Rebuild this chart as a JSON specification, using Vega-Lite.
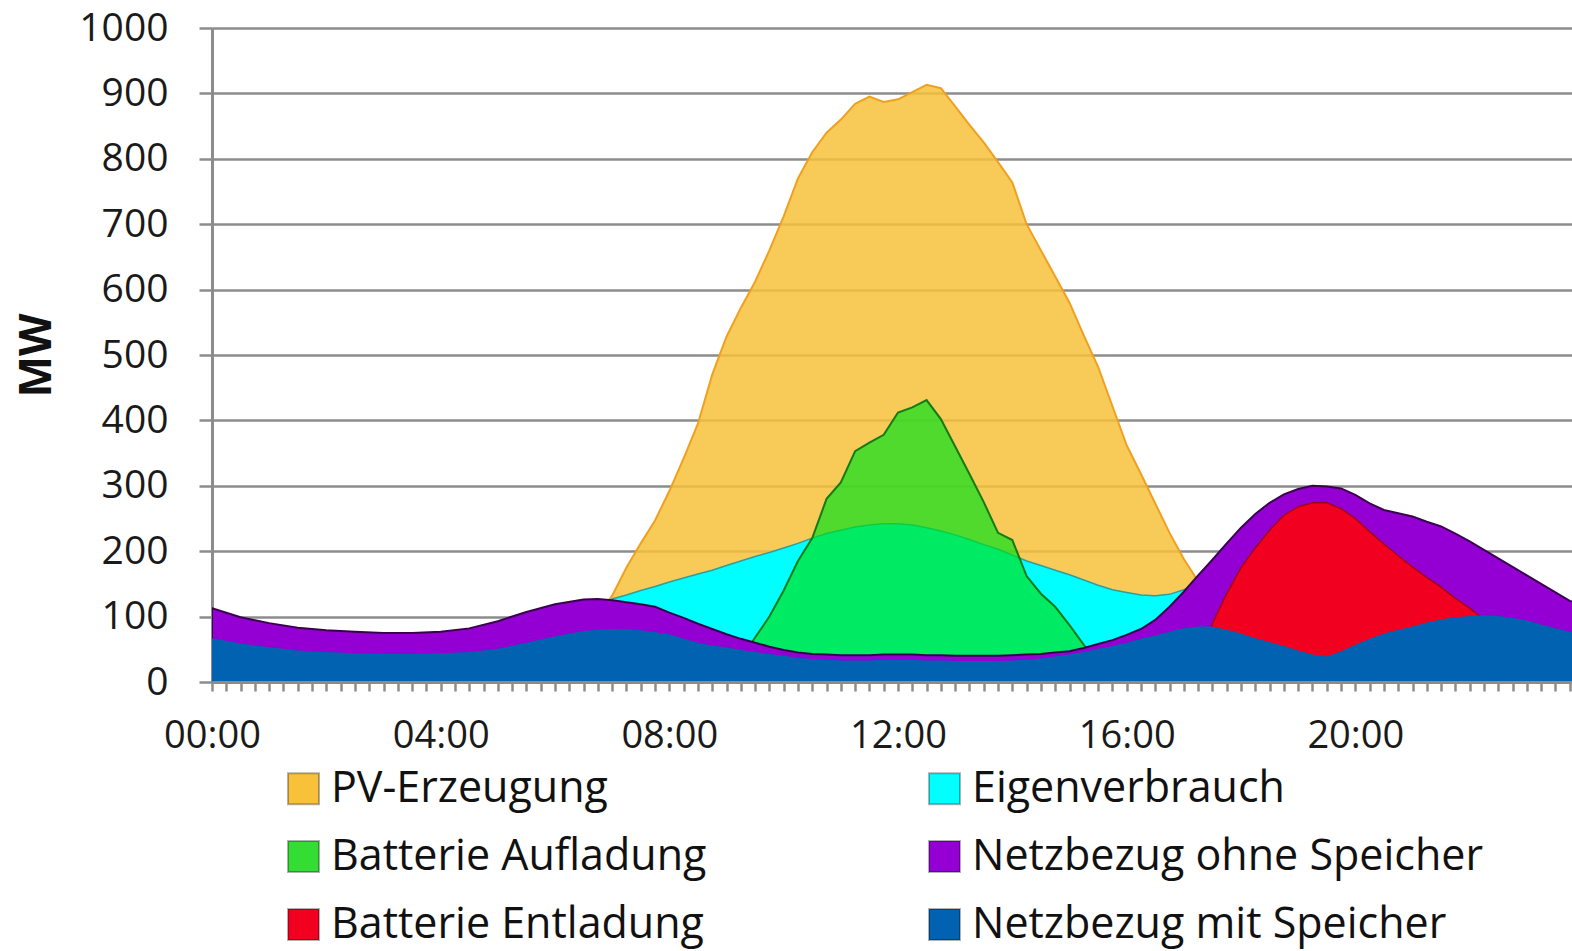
{
  "$schema": "https://vega.github.io/schema/vega-lite/v6.json",
  "width": 1360,
  "height": 654,
  "autosize": {"type": "none"},
  "padding": {"left": 212, "top": 28, "right": 0, "bottom": 269},
  "background": "white",
  "config": {"view": {"stroke": null}, "font": "Open Sans"},
  "data": {"values": [
    {"t":0,"pv":0,"ev":0,"la":0,"oh":113,"mi":67,"en":0},
    {"t":0.5,"pv":0,"ev":0,"la":0,"oh":99,"mi":59,"en":0},
    {"t":1,"pv":0,"ev":0,"la":0,"oh":90,"mi":53,"en":0},
    {"t":1.5,"pv":0,"ev":0,"la":0,"oh":83,"mi":48,"en":0},
    {"t":2,"pv":0,"ev":0,"la":0,"oh":79,"mi":46,"en":0},
    {"t":2.5,"pv":0,"ev":0,"la":0,"oh":77,"mi":44,"en":0},
    {"t":3,"pv":0,"ev":0,"la":0,"oh":75,"mi":43,"en":0},
    {"t":3.5,"pv":0,"ev":0,"la":0,"oh":75,"mi":43,"en":0},
    {"t":4,"pv":0,"ev":0,"la":0,"oh":77,"mi":44,"en":0},
    {"t":4.5,"pv":0,"ev":0,"la":0,"oh":82,"mi":46,"en":0},
    {"t":5,"pv":0,"ev":0,"la":0,"oh":93,"mi":51,"en":0},
    {"t":5.5,"pv":5,"ev":5,"la":0,"oh":107,"mi":60,"en":0},
    {"t":6,"pv":25,"ev":25,"la":0,"oh":119,"mi":70,"en":0},
    {"t":6.5,"pv":70,"ev":70,"la":0,"oh":126,"mi":78,"en":0},
    {"t":6.75,"pv":100,"ev":100,"la":0,"oh":127,"mi":80,"en":0},
    {"t":7,"pv":132,"ev":127,"la":0,"oh":125,"mi":81,"en":0},
    {"t":7.25,"pv":175,"ev":133,"la":0,"oh":122,"mi":81,"en":0},
    {"t":7.5,"pv":212,"ev":140,"la":0,"oh":119,"mi":79,"en":0},
    {"t":7.75,"pv":247,"ev":146,"la":0,"oh":115,"mi":76,"en":0},
    {"t":8,"pv":292,"ev":153,"la":0,"oh":106,"mi":73,"en":0},
    {"t":8.25,"pv":342,"ev":159,"la":0,"oh":98,"mi":66,"en":0},
    {"t":8.5,"pv":395,"ev":165,"la":0,"oh":89,"mi":60,"en":0},
    {"t":8.75,"pv":470,"ev":171,"la":0,"oh":81,"mi":56,"en":0},
    {"t":9,"pv":528,"ev":178,"la":10,"oh":73,"mi":53,"en":0},
    {"t":9.25,"pv":572,"ev":185,"la":35,"oh":66,"mi":49,"en":0},
    {"t":9.5,"pv":612,"ev":192,"la":68,"oh":60,"mi":46,"en":0},
    {"t":9.75,"pv":660,"ev":198,"la":100,"oh":54,"mi":43,"en":0},
    {"t":10,"pv":712,"ev":205,"la":140,"oh":49,"mi":40,"en":0},
    {"t":10.25,"pv":770,"ev":212,"la":185,"oh":45,"mi":37,"en":0},
    {"t":10.5,"pv":810,"ev":220,"la":220,"oh":43,"mi":35,"en":0},
    {"t":10.75,"pv":840,"ev":227,"la":280,"oh":42,"mi":34,"en":0},
    {"t":11,"pv":860,"ev":232,"la":305,"oh":41,"mi":33,"en":0},
    {"t":11.25,"pv":884,"ev":237,"la":353,"oh":41,"mi":33,"en":0},
    {"t":11.5,"pv":895,"ev":240,"la":366,"oh":41,"mi":33,"en":0},
    {"t":11.75,"pv":887,"ev":242,"la":378,"oh":42,"mi":34,"en":0},
    {"t":12,"pv":891,"ev":242,"la":412,"oh":42,"mi":34,"en":0},
    {"t":12.25,"pv":902,"ev":240,"la":420,"oh":42,"mi":34,"en":0},
    {"t":12.5,"pv":913,"ev":236,"la":431,"oh":41,"mi":33,"en":0},
    {"t":12.75,"pv":908,"ev":231,"la":402,"oh":41,"mi":33,"en":0},
    {"t":13,"pv":880,"ev":225,"la":360,"oh":40,"mi":32,"en":0},
    {"t":13.25,"pv":852,"ev":218,"la":318,"oh":40,"mi":32,"en":0},
    {"t":13.5,"pv":825,"ev":210,"la":275,"oh":40,"mi":32,"en":0},
    {"t":13.75,"pv":795,"ev":203,"la":228,"oh":40,"mi":32,"en":0},
    {"t":14,"pv":764,"ev":194,"la":217,"oh":41,"mi":33,"en":0},
    {"t":14.25,"pv":700,"ev":185,"la":162,"oh":42,"mi":34,"en":0},
    {"t":14.5,"pv":660,"ev":178,"la":135,"oh":43,"mi":36,"en":0},
    {"t":14.75,"pv":620,"ev":171,"la":115,"oh":45,"mi":39,"en":0},
    {"t":15,"pv":580,"ev":164,"la":87,"oh":47,"mi":42,"en":0},
    {"t":15.25,"pv":530,"ev":156,"la":57,"oh":52,"mi":46,"en":0},
    {"t":15.5,"pv":482,"ev":148,"la":28,"oh":58,"mi":51,"en":0},
    {"t":15.75,"pv":422,"ev":141,"la":0,"oh":64,"mi":55,"en":0},
    {"t":16,"pv":362,"ev":137,"la":0,"oh":72,"mi":60,"en":0},
    {"t":16.25,"pv":318,"ev":133,"la":0,"oh":81,"mi":66,"en":0},
    {"t":16.5,"pv":273,"ev":132,"la":0,"oh":95,"mi":71,"en":0},
    {"t":16.75,"pv":228,"ev":134,"la":0,"oh":115,"mi":77,"en":0},
    {"t":17,"pv":188,"ev":141,"la":0,"oh":138,"mi":82,"en":0},
    {"t":17.25,"pv":154,"ev":150,"la":0,"oh":163,"mi":85,"en":0},
    {"t":17.5,"pv":120,"ev":120,"la":0,"oh":187,"mi":85,"en":90},
    {"t":17.75,"pv":85,"ev":85,"la":0,"oh":212,"mi":80,"en":135},
    {"t":18,"pv":55,"ev":55,"la":0,"oh":236,"mi":74,"en":175},
    {"t":18.25,"pv":30,"ev":30,"la":0,"oh":257,"mi":67,"en":205},
    {"t":18.5,"pv":12,"ev":12,"la":0,"oh":274,"mi":61,"en":232},
    {"t":18.75,"pv":0,"ev":0,"la":0,"oh":287,"mi":55,"en":255},
    {"t":19,"pv":0,"ev":0,"la":0,"oh":295,"mi":48,"en":268},
    {"t":19.25,"pv":0,"ev":0,"la":0,"oh":300,"mi":42,"en":274},
    {"t":19.5,"pv":0,"ev":0,"la":0,"oh":299,"mi":39,"en":274},
    {"t":19.75,"pv":0,"ev":0,"la":0,"oh":296,"mi":47,"en":265},
    {"t":20,"pv":0,"ev":0,"la":0,"oh":286,"mi":57,"en":250},
    {"t":20.25,"pv":0,"ev":0,"la":0,"oh":273,"mi":66,"en":230},
    {"t":20.5,"pv":0,"ev":0,"la":0,"oh":263,"mi":74,"en":211},
    {"t":20.75,"pv":0,"ev":0,"la":0,"oh":258,"mi":80,"en":193},
    {"t":21,"pv":0,"ev":0,"la":0,"oh":253,"mi":85,"en":176},
    {"t":21.25,"pv":0,"ev":0,"la":0,"oh":245,"mi":91,"en":160},
    {"t":21.5,"pv":0,"ev":0,"la":0,"oh":238,"mi":96,"en":145},
    {"t":21.75,"pv":0,"ev":0,"la":0,"oh":227,"mi":99,"en":128},
    {"t":22,"pv":0,"ev":0,"la":0,"oh":215,"mi":101,"en":113},
    {"t":22.25,"pv":0,"ev":0,"la":0,"oh":202,"mi":102,"en":96},
    {"t":22.5,"pv":0,"ev":0,"la":0,"oh":189,"mi":101,"en":60},
    {"t":22.75,"pv":0,"ev":0,"la":0,"oh":176,"mi":98,"en":0},
    {"t":23,"pv":0,"ev":0,"la":0,"oh":163,"mi":94,"en":0},
    {"t":23.25,"pv":0,"ev":0,"la":0,"oh":150,"mi":88,"en":0},
    {"t":23.5,"pv":0,"ev":0,"la":0,"oh":137,"mi":82,"en":0},
    {"t":23.75,"pv":0,"ev":0,"la":0,"oh":124,"mi":77,"en":0},
    {"t":24,"pv":0,"ev":0,"la":0,"oh":118,"mi":74,"en":0}
  ]},
  "transform": [{"fold": ["pv", "ev", "la", "oh", "en", "mi"], "as": ["s", "v"]}],
  "encoding": {
    "x": {
      "field": "t", "type": "quantitative",
      "scale": {"domain": [0, 23.79], "nice": false, "zero": false},
      "axis": {
        "title": null,
        "values": [0,0.25,0.5,0.75,1,1.25,1.5,1.75,2,2.25,2.5,2.75,3,3.25,3.5,3.75,4,4.25,4.5,4.75,5,5.25,5.5,5.75,6,6.25,6.5,6.75,7,7.25,7.5,7.75,8,8.25,8.5,8.75,9,9.25,9.5,9.75,10,10.25,10.5,10.75,11,11.25,11.5,11.75,12,12.25,12.5,12.75,13,13.25,13.5,13.75,14,14.25,14.5,14.75,15,15.25,15.5,15.75,16,16.25,16.5,16.75,17,17.25,17.5,17.75,18,18.25,18.5,18.75,19,19.25,19.5,19.75,20,20.25,20.5,20.75,21,21.25,21.5,21.75,22,22.25,22.5,22.75,23,23.25,23.5,23.75],
        "labelExpr": "datum.value % 4 == 0 ? (datum.value < 10 ? '0' : '') + datum.value + ':00' : ''",
        "labelFlush": false,
        "labelOverlap": false,
        "labelFont": "Open Sans",
        "labelFontSize": 38,
        "labelColor": "#1a1a1a",
        "labelPadding": 26,
        "grid": false,
        "domainColor": "#8c8c8c",
        "domainWidth": 3,
        "tickColor": "#8c8c8c",
        "tickWidth": 2.5,
        "tickSize": 9,
        "zindex": 1
      }
    },
    "y": {
      "field": "v", "type": "quantitative", "stack": null,
      "scale": {"domain": [0, 1000], "nice": false},
      "axis": {
        "title": "MW",
        "titleFont": "Open Sans",
        "titleFontSize": 44,
        "titleFontWeight": "bold",
        "titleColor": "#111111",
        "titleAngle": -90,
        "titleX": -175,
        "titleY": 327,
        "titleBaseline": "middle",
        "titleAlign": "center",
        "values": [0,100,200,300,400,500,600,700,800,900,1000],
        "format": "d",
        "labelFont": "Open Sans",
        "labelFontSize": 39,
        "labelColor": "#1a1a1a",
        "labelPadding": 31,
        "grid": true,
        "gridColor": "#8c8c8c",
        "gridWidth": 2.5,
        "domainColor": "#8c8c8c",
        "domainWidth": 3,
        "tickColor": "#8c8c8c",
        "tickWidth": 2.5,
        "tickSize": 13
      }
    },
    "color": {
      "field": "s", "type": "nominal",
      "scale": {
        "domain": ["pv", "la", "en", "ev", "oh", "mi"],
        "range": ["#F7C13A", "#33DD33", "#F20020", "#00FFFF", "#9400D3", "#0062B0"]
      },
      "legend": {
        "title": null,
        "orient": "none",
        "legendX": 70,
        "legendY": 739,
        "columns": 2,
        "columnPadding": 216,
        "rowPadding": 24,
        "padding": 0,
        "symbolType": "square",
        "symbolSize": 961,
        "symbolStrokeWidth": 2,
        "labelOffset": 6,
        "labelFont": "Open Sans",
        "labelFontSize": 43,
        "labelColor": "#111111",
        "labelLimit": 700,
        "labelExpr": "datum.label == 'pv' ? 'PV-Erzeugung' : datum.label == 'ev' ? 'Eigenverbrauch' : datum.label == 'la' ? 'Batterie Aufladung' : datum.label == 'oh' ? 'Netzbezug ohne Speicher' : datum.label == 'en' ? 'Batterie Entladung' : 'Netzbezug mit Speicher'",
        "encode": {
          "symbols": {
            "update": {
              "stroke": {"value": "rgba(0,0,0,0.3)"},
              "strokeWidth": {"value": 2},
              "opacity": {"value": 1},
              "fillOpacity": {"value": 1}
            }
          }
        }
      }
    }
  },
  "layer": [
    {"transform": [{"filter": "datum.s == 'pv'"}],
     "mark": {"type": "area", "clip": true, "fillOpacity": 0.85, "stroke": "#F0A020", "strokeWidth": 2}},
    {"transform": [{"filter": "datum.s == 'ev'"}],
     "mark": {"type": "area", "clip": true, "stroke": "#2E9E9E", "strokeWidth": 1.5}},
    {"transform": [{"filter": "datum.s == 'la'"}],
     "mark": {"type": "area", "clip": true, "fill": "#00E11A", "fillOpacity": 0.68, "stroke": "#147A14", "strokeWidth": 2}},
    {"transform": [{"filter": "datum.s == 'oh'"}],
     "mark": {"type": "area", "clip": true, "stroke": "#3A0050", "strokeWidth": 2}},
    {"transform": [{"filter": "datum.s == 'en'"}],
     "mark": {"type": "area", "clip": true, "stroke": "#A0001A", "strokeWidth": 1.5}},
    {"transform": [{"filter": "datum.s == 'mi'"}],
     "mark": {"type": "area", "clip": true}}
  ]
}
